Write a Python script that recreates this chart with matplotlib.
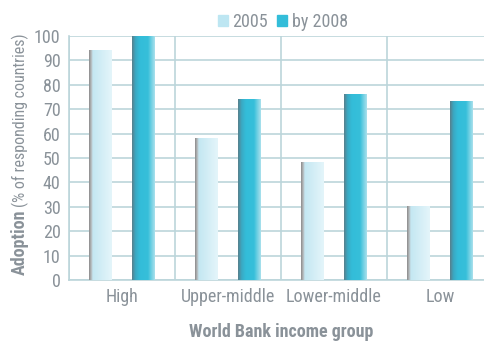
import numpy as np
import matplotlib.pyplot as plt
from matplotlib.colors import LinearSegmentedColormap
from matplotlib.patches import Patch

groups = ["High", "Upper-middle", "Lower-middle", "Low"]
adopt_2005 = [94, 58, 48, 30]
adopt_2008 = [100, 74, 76, 73]

txt = "#8a9299"
grid_c = "#bcd5da"
font = ["Liberation Sans Narrow", "Roboto Condensed", "DejaVu Sans"]
plt.rcParams["font.family"] = font

# horizontal shading of the bars (left -> right)
grad_2005 = LinearSegmentedColormap.from_list(
    "g05", [(0, "#8d8d8d"), (0.09, "#b5b9bb"), (0.16, "#c4e7f2"), (1, "#e4f5fa")])
grad_2008 = LinearSegmentedColormap.from_list(
    "g08", [(0, "#58808d"), (0.15, "#3aa9c3"), (0.35, "#33bdd9"), (0.7, "#36bfda"), (1, "#a9e0ec")])

fig = plt.figure(figsize=(4.84, 3.42), dpi=100)
ax = fig.add_axes([69 / 484, 62 / 342, 424 / 484, 244 / 342])

x = np.arange(len(groups))
w = 0.215
b1 = ax.bar(x - 0.2, adopt_2005, w, color="#c4e7f2", zorder=2)
b2 = ax.bar(x + 0.2, adopt_2008, w, color="#33bdd9", zorder=2)

grad = np.linspace(0, 1, 64).reshape(1, -1)
for bars, cm in [(b1, grad_2005), (b2, grad_2008)]:
    for r in bars:
        ax.imshow(grad, cmap=cm, aspect="auto", zorder=3, interpolation="bilinear",
                  extent=(r.get_x(), r.get_x() + r.get_width(), 0, r.get_height()))

ax.set_xlim(-0.5, 3.5)
ax.set_ylim(0, 100)
ax.set_yticks(range(0, 101, 10))
ax.set_xticks(x)
ax.set_xticklabels(groups)
ax.set_xticks(np.arange(-0.5, 3.6, 1), minor=True)
ax.grid(axis="y", color=grid_c, lw=1.2, zorder=0)
ax.grid(axis="x", which="minor", color=grid_c, lw=1.2, zorder=0)
ax.tick_params(length=0, which="both", labelsize=13, colors=txt, pad=6)
for s in ["top", "right"]:
    ax.spines[s].set_visible(False)
for s in ["left", "bottom"]:
    ax.spines[s].set_color(grid_c)
    ax.spines[s].set_linewidth(1.2)

ax.set_xlabel("World Bank income group", fontsize=13, fontweight="bold", color=txt, labelpad=12)

fig.text(20 / 484, 100 / 342, "Adoption", rotation=90, fontsize=13, fontweight="bold",
         color=txt, ha="center", va="center")
fig.text(20 / 484, 135 / 342, "(% of responding countries)", rotation=90, fontsize=11.5,
         color=txt, ha="center", va="bottom")

handles = [Patch(color="#bde6f2"), Patch(color="#33bdd9")]
fig.legend(handles, ["2005", "by 2008"], loc="center", bbox_to_anchor=(283 / 484, 1 - 22 / 342),
           ncol=2, frameon=False, fontsize=13, labelcolor=txt, handlelength=0.55,
           handleheight=0.55, handletextpad=0.25, columnspacing=0.5)

fig.savefig("out.png", dpi=100)
